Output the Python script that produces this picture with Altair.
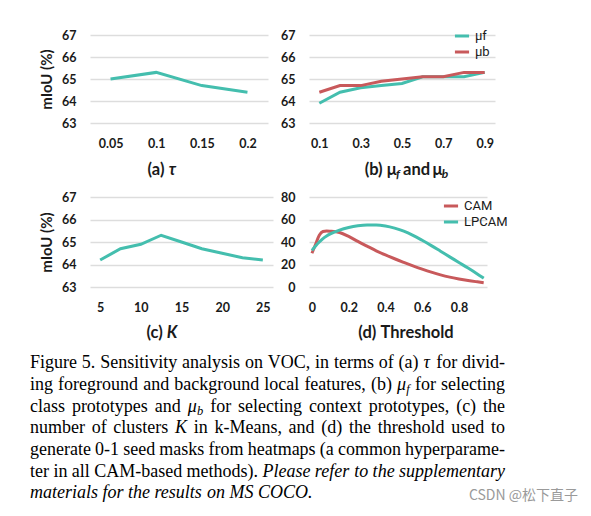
import altair as alt
import pandas as pd

# ---------------- data ----------------
tau_values = ["0.05", "0.1", "0.15", "0.2"]
tau_miou = [65.0, 65.3, 64.7, 64.4]

mu_values = ["0.1", "0.2", "0.3", "0.4", "0.5", "0.6", "0.7", "0.8", "0.9"]
mu_f_miou = [63.9, 64.4, 64.6, 64.7, 64.8, 65.1, 65.1, 65.1, 65.3]
mu_b_miou = [64.4, 64.7, 64.7, 64.9, 65.0, 65.1, 65.1, 65.3, 65.3]
mu_labels = ["μf", "μb"]

k_values = ["5", "7.5", "10", "12.5", "15", "17.5", "20", "22.5", "25"]
k_miou = [64.2, 64.7, 64.9, 65.3, 65.0, 64.7, 64.5, 64.3, 64.2]

thresholds = [0, 0.02, 0.04, 0.06, 0.08, 0.1, 0.15, 0.2, 0.25, 0.3, 0.35, 0.4,
              0.45, 0.5, 0.55, 0.6, 0.65, 0.7, 0.75, 0.8, 0.85, 0.9, 0.935]
cam_miou = [30, 38, 46, 49.3, 49.8, 49.6, 48.5, 45, 40.5, 36.3, 32.2, 28.5,
            25.1, 21.9, 18.8, 15.9, 13.2, 10.8, 8.8, 7.2, 5.8, 4.6, 3.8]
lpcam_miou = [32.5, 36.5, 40, 43, 45.3, 47.2, 50.6, 52.9, 54.4, 55.1, 55.1, 54.2,
              52.3, 49.6, 45.9, 41.5, 36.8, 31.8, 26.8, 21.8, 16.8, 11.6, 7.8]
thr_labels = ["CAM", "LPCAM"]

miou_ticks = [63, 64, 65, 66, 67]
thr_y_ticks = [0, 20, 40, 60, 80]
thr_x_ticks = [0, 0.2, 0.4, 0.6, 0.8]

# panel titles as runs: (text, style) ; style b = bold, bi = bold italic, sub = subscript
title_a = [("(a)", "b"), ("τ", "bi")]
title_b = [("(b)", "b"), ("μ", "b"), ("f", "sub"), ("and", "b"), ("μ", "b"), ("b", "sub")]
title_c = [("(c)", "b"), ("K", "bi")]
title_d = [("(d)", "b"), ("Threshold", "b")]
y_title = "mIoU (%)"

caption_lines = [
    "Figure 5. Sensitivity analysis on VOC, in terms of (a) τ for divid-",
    "ing foreground and background local features, (b) μf for selecting",
    "class prototypes and μb for selecting context prototypes, (c) the",
    "number of clusters K in k-Means, and (d) the threshold used to",
    "generate 0-1 seed masks from heatmaps (a common hyperparame-",
    "ter in all CAM-based methods). Please refer to the supplementary",
    "materials for the results on MS COCO.",
]
caption_italic_from = [None, None, None, None, None, 5, 0]   # word index where italics start
caption_math = {"τ": [("τ", "m")], "K": [("K", "m")],
                "μf": [("μ", "m"), ("f", "s")], "μb": [("μ", "m"), ("b", "s")]}
watermark = "CSDN @松下直子"

# ---------------- style ----------------
TEAL = "#44BEAE"
RED = "#C8595B"
FONT = "Lato"
SERIF = "Liberation Serif"
INK = "#1a1a1a"
GRID = "#dddddd"
CAP_SIZE = 18
SUB_SIZE = 12.5
CAP_LEFT = -60      # caption left edge relative to the first panel's plot area
CAP_WIDTH = 475
TITLE_SIZE = 16.5
TITLE_SUB = 12

# Times (Liberation Serif) advance widths, 1/1000 em
_reg = dict(zip("abcdefghijklmnopqrstuvwxyz",
                [444, 500, 444, 500, 444, 333, 500, 500, 278, 278, 500, 278, 778,
                 500, 500, 500, 500, 333, 389, 278, 500, 500, 722, 500, 500, 444]))
_reg.update(dict(zip("ABCDEFGHIJKLMNOPQRSTUVWXYZ",
                     [722, 667, 667, 722, 611, 556, 722, 722, 333, 389, 722, 611, 889,
                      722, 722, 556, 722, 667, 556, 611, 722, 722, 944, 722, 722, 611])))
_reg.update({" ": 250, ",": 250, ".": 250, "(": 333, ")": 333, "-": 333, ":": 278,
             "τ": 440, "μ": 520, "%": 833})
for d in "0123456789":
    _reg[d] = 500
_ital = dict(_reg)
_ital.update(dict(zip("abcdefghijklmnopqrstuvwxyz",
                      [500, 500, 444, 500, 444, 278, 500, 500, 278, 278, 444, 278, 722,
                       500, 500, 500, 500, 389, 389, 278, 500, 444, 667, 444, 444, 389])))
_ital.update({"M": 833, "S": 500, "C": 667, "O": 722, "P": 611, "K": 667})

# Lato Bold approximate advance widths, 1/1000 em
_lato = {"(": 300, ")": 300, " ": 190, "a": 495, "b": 550, "c": 435, "d": 550,
         "e": 510, "f": 330, "h": 550, "l": 250, "n": 550, "o": 545, "r": 370,
         "s": 410, "T": 525, "K": 610, "μ": 560, "τ": 520}


def text_w(s, italic, size):
    tbl = _ital if italic else _reg
    return sum(tbl.get(c, 500) for c in s) * size / 1000.0


def lato_w(s, size):
    return sum(_lato.get(c, 520) for c in s) * size / 1000.0


rows = []
for li, line in enumerate(caption_lines):
    words = line.split(" ")
    it_from = caption_italic_from[li]
    runs_per_word = []
    for wi, w in enumerate(words):
        italic = it_from is not None and wi >= it_from
        if w in caption_math:
            runs = [(t, "italic" if k == "m" else "sub", SUB_SIZE if k == "s" else CAP_SIZE)
                    for t, k in caption_math[w]]
        else:
            runs = [(w, "italic" if italic else "normal", CAP_SIZE)]
        runs_per_word.append(runs)
    widths = [sum(text_w(t, st != "normal", sz) for t, st, sz in r) for r in runs_per_word]
    justify = li < len(caption_lines) - 1
    gap = ((CAP_WIDTH - sum(widths)) / (len(words) - 1)) if justify else CAP_SIZE * 0.25
    x = CAP_LEFT
    for runs, w in zip(runs_per_word, widths):
        rx = x
        for t, st, sz in runs:
            rows.append({"line": li, "x": rx, "t": t, "style": st})
            rx += text_w(t, st != "normal", sz)
        x += w + gap
cap_df = pd.DataFrame(rows)


def title_marks(runs, cx, cy):
    """Panel caption below the x axis, laid out run by run and centred on cx."""
    pos, x, prev = [], 0.0, None
    for t, st in runs:
        if prev is not None and st != "sub":
            x += lato_w(" ", TITLE_SIZE)
        size = TITLE_SUB if st == "sub" else TITLE_SIZE
        pos.append((t, st, x, size))
        x += lato_w(t, size)
        prev = st
    start = cx - x / 2
    marks = []
    for t, st, px, size in pos:
        kw = dict(align="left", baseline="middle", font=FONT, fontWeight="bold",
                  fontSize=size, color=INK)
        if st in ("bi", "sub"):
            kw["fontStyle"] = "italic"
        if st == "sub":
            kw["dy"] = 4
        marks.append(alt.Chart(pd.DataFrame({"t": [t]})).mark_text(**kw).encode(
            x=alt.value(start + px), y=alt.value(cy), text="t:N"))
    return marks


def y_axis(values, title=None, fmt="d"):
    kw = dict(values=values, format=fmt, domain=False, ticks=False, grid=True,
              gridColor=GRID, gridWidth=1.5, labelPadding=14, labelFont=FONT,
              labelFontWeight="bold", labelFontSize=12.5, labelColor=INK)
    if title is not None:
        kw.update(title=title, titleFont=FONT, titleFontWeight="bold",
                  titleFontSize=15, titleColor=INK, titlePadding=7)
    else:
        kw.update(title=None)
    return alt.Axis(**kw)


def x_axis(values=None, fmt=None):
    kw = dict(title=None, labelAngle=0, domain=False, ticks=False, grid=False,
              labelPadding=14, labelFont=FONT, labelFontWeight="bold",
              labelFontSize=12.5, labelColor=INK)
    if values is not None:
        kw["values"] = values
    if fmt is not None:
        kw["format"] = fmt
    return alt.Axis(**kw)


def legend(x, y):
    return alt.Legend(title=None, orient="none", legendX=x, legendY=y,
                      symbolType="stroke", symbolStrokeWidth=3, symbolSize=200,
                      labelFont="Liberation Sans Narrow, Roboto", labelFontSize=13,
                      labelColor=INK, labelOffset=4, rowPadding=0)


miou_scale = alt.Scale(domain=[63, 67], nice=False, zero=False)

# (a)
df_a = pd.DataFrame({"x": tau_values, "y": tau_miou})
line_a = alt.Chart(df_a).mark_line(color=TEAL, strokeWidth=3).encode(
    x=alt.X("x:O", sort=tau_values, scale=alt.Scale(type="point", padding=0.45),
            axis=x_axis()),
    y=alt.Y("y:Q", scale=miou_scale, axis=y_axis(miou_ticks, y_title)),
)
chart_a = alt.layer(line_a, *title_marks(title_a, 72.5, 135)).properties(width=178, height=88)

# (b)
df_b = pd.DataFrame({
    "x": mu_values + mu_values,
    "y": mu_f_miou + mu_b_miou,
    "s": [mu_labels[0]] * len(mu_values) + [mu_labels[1]] * len(mu_values),
    "o": list(range(2 * len(mu_values))),
})
line_b = alt.Chart(df_b).mark_line(strokeWidth=3).encode(
    x=alt.X("x:O", sort=mu_values, scale=alt.Scale(type="point", padding=0.5),
            axis=x_axis(values=mu_values[::2])),
    y=alt.Y("y:Q", scale=miou_scale, axis=y_axis(miou_ticks)),
    color=alt.Color("s:N", scale=alt.Scale(domain=mu_labels, range=[TEAL, RED]),
                    legend=legend(144, -8)),
    order="o:Q",
)
chart_b = alt.layer(line_b, *title_marks(title_b, 97.5, 135)).properties(width=186, height=88)

# (c)
df_c = pd.DataFrame({"x": k_values, "y": k_miou})
line_c = alt.Chart(df_c).mark_line(color=TEAL, strokeWidth=3).encode(
    x=alt.X("x:O", sort=k_values, scale=alt.Scale(type="point", padding=0.5),
            axis=x_axis(values=k_values[::2])),
    y=alt.Y("y:Q", scale=miou_scale, axis=y_axis(miou_ticks, y_title)),
)
chart_c = alt.layer(line_c, *title_marks(title_c, 71.7, 136)).properties(width=183, height=90)

# (d)
df_d = pd.DataFrame({
    "x": thresholds + thresholds,
    "y": cam_miou + lpcam_miou,
    "s": [thr_labels[0]] * len(thresholds) + [thr_labels[1]] * len(thresholds),
})
line_d = alt.Chart(df_d).mark_line(strokeWidth=3, interpolate="monotone").encode(
    x=alt.X("x:Q", scale=alt.Scale(domain=[-0.016, 0.953], nice=False, zero=False),
            axis=x_axis(values=thr_x_ticks, fmt=".1~f")),
    y=alt.Y("y:Q", scale=alt.Scale(domain=[0, 80], nice=False),
            axis=y_axis(thr_y_ticks)),
    color=alt.Color("s:N", scale=alt.Scale(domain=thr_labels, range=[RED, TEAL]),
                    legend=legend(133, 0)),
)
chart_d = alt.layer(line_d, *title_marks(title_d, 95.5, 136)).properties(width=178, height=90)

# caption (justified words)
ymap = alt.Y("line:Q", scale=alt.Scale(domain=[-0.106, 6.894], reverse=True, nice=False,
                                       zero=False), axis=None)
xmap = alt.X("x:Q", scale=None, axis=None)
base = alt.Chart(cap_df).encode(x=xmap, y=ymap, text="t:N")
txt = dict(align="left", baseline="middle", font=SERIF, color="black")
cap_norm = base.transform_filter("datum.style == 'normal'").mark_text(
    fontSize=CAP_SIZE, **txt)
cap_ital = base.transform_filter("datum.style == 'italic'").mark_text(
    fontSize=CAP_SIZE, fontStyle="italic", **txt)
cap_sub = base.transform_filter("datum.style == 'sub'").mark_text(
    fontSize=SUB_SIZE, fontStyle="italic", dy=4, **txt)
wm = alt.Chart(pd.DataFrame({"line": [6], "t": [watermark]})).mark_text(
    align="right", baseline="middle", font="Noto Sans CJK SC", fontSize=14,
    color="#9a9a9a", dy=3).encode(x=alt.value(488), y=ymap, text="t:N")
caption = alt.layer(cap_norm, cap_ital, cap_sub, wm).properties(width=170, height=151.7)

chart = alt.concat(
    chart_a, chart_b, chart_c, chart_d, caption,
    columns=2, spacing={"row": 74, "column": 36}, bounds="flush",
).resolve_scale(color="independent").resolve_legend(color="independent").properties(
    padding={"left": 22, "top": 19, "right": 5, "bottom": 5},
    background="white",
).configure_view(stroke=None)

chart.save("out.html", embed_options={"renderer": "svg", "actions": False})
